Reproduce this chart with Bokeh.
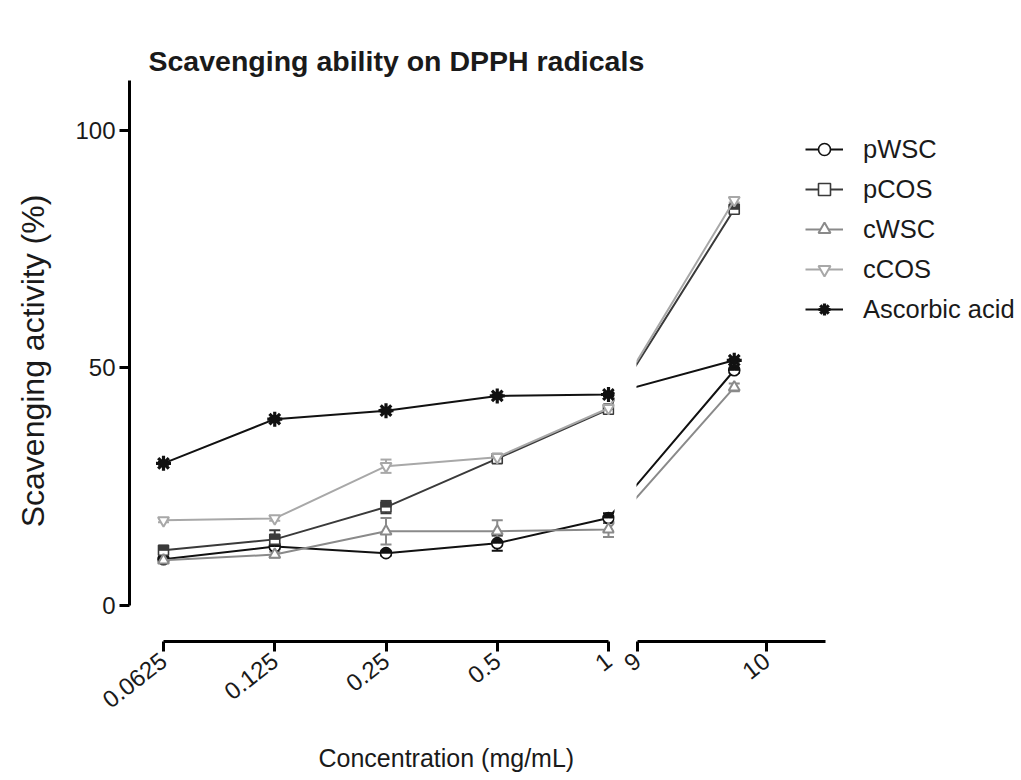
import numpy as np
from bokeh.plotting import figure
from bokeh.layouts import row, column
from bokeh.models import (FixedTicker, CustomJSTickFormatter, Range1d, Legend, LegendItem,
                          Whisker, ColumnDataSource, TeeHead, Title)
from bokeh.embed import file_html
from bokeh.resources import INLINE

# ---------------- data ----------------
conc = [0.0625, 0.125, 0.25, 0.5, 1, 9.75]          # mg/mL
left_ticks = [0.0625, 0.125, 0.25, 0.5, 1]
right_ticks = [9, 10]
y_ticks = [0, 50, 100]

pWSC = [9.7, 12.4, 11.0, 13.1, 18.4, 49.5]
pWSC_err = [0.4, 0.6, 0.5, 1.6, 1.0, 0.6]
pCOS = [11.6, 13.9, 20.7, 30.9, 41.3, 83.4]
pCOS_err = [0.6, 1.9, 1.3, 0.6, 0.6, 0.6]
cWSC = [9.5, 10.7, 15.6, 15.6, 16.0, 45.9]
cWSC_err = [0.4, 0.6, 2.8, 2.3, 1.6, 0.8]
cCOS = [17.9, 18.3, 29.3, 31.2, 41.5, 85.3]
cCOS_err = [0.4, 0.5, 1.4, 0.5, 0.5, 0.5]
ascorbic = [29.9, 39.2, 41.0, 44.1, 44.4, 51.6]
ascorbic_err = [0.3, 0.3, 0.3, 0.3, 0.3, 0.3]

# ---------------- broken x scale ----------------
PXU = 111.25          # pixels per unit of the combined axis coordinate
GAP = 29 / PXU        # gap between the two segments
SLOPE = 129 / PXU     # right segment: axis units per mg/mL
BREAK_START = 9


def to_u(c):
    c = np.asarray(c, dtype=float)
    return np.where(c <= 1, np.log2(c), GAP + (c - BREAK_START) * SLOPE)


u = to_u(conc)
FONT = "Liberation Sans"
TXT = "#1a1a1a"

HEAD_H = 80
FRAME_H = 561
BOTTOM = 92
FOOT_H = 780 - HEAD_H - FRAME_H - BOTTOM
ROW_H = FRAME_H + BOTTOM
Y0, Y1 = -7.6, 110.5
py_unit = FRAME_H / (Y1 - Y0)


def strip(height, top, text, size, style, offset):
    s = figure(width=1021, height=height, output_backend="svg", toolbar_location=None,
               x_axis_location=None, y_axis_location=None,
               min_border_left=0, min_border_right=0, min_border_top=top,
               min_border_bottom=0)
    s.outline_line_color = None
    s.grid.visible = False
    s.title = Title(text=text, align="left", offset=offset, text_font=FONT,
                    text_font_size=size, text_font_style=style, text_color=TXT, standoff=4)
    return s


head = strip(HEAD_H, HEAD_H - 2, "Scavenging ability on DPPH radicals", "28.5px", "bold", 148)
foot = strip(FOOT_H, 40, "Concentration (mg/mL)", "25px", "normal", 318)

# left figure: frame 129 .. 614, canvas 0 .. 617
LW = 617
l_frame_w = 614 - 129
l_start = -4 - 34 / PXU
left = figure(width=LW, height=ROW_H, output_backend="svg", toolbar_location=None,
              x_range=Range1d(l_start, l_start + l_frame_w / PXU),
              y_range=Range1d(Y0, Y1),
              min_border_left=129, min_border_right=LW - 614,
              min_border_top=0, min_border_bottom=BOTTOM)

# right figure: canvas 617 .. 1021, frame 636 .. 1015
RW = 1021 - LW
R_BL = 636 - LW
r_frame_w = RW - R_BL - 6
r_start = GAP - 1 / PXU
right = figure(width=RW, height=ROW_H, output_backend="svg", toolbar_location=None,
               x_range=Range1d(r_start, r_start + r_frame_w / PXU),
               y_range=Range1d(Y0, Y1), y_axis_location=None,
               min_border_left=R_BL, min_border_right=6,
               min_border_top=0, min_border_bottom=BOTTOM)

for f in (left, right):
    f.outline_line_color = None
    f.xgrid.visible = False
    f.ygrid.visible = False
    f.background_fill_color = "white"
    f.border_fill_color = "white"
    ax = f.xaxis[0]
    ax.axis_line_width = 3
    ax.axis_line_color = "black"
    ax.major_tick_line_width = 3
    ax.major_tick_line_color = "black"
    ax.major_tick_out = 10
    ax.major_tick_in = 0
    ax.minor_tick_line_color = None
    ax.major_label_text_font = FONT
    ax.major_label_text_font_size = "24px"
    ax.major_label_text_color = TXT
    ax.major_label_orientation = 0.66
    ax.major_label_standoff = 6

left.xaxis[0].bounds = (-4, 0)
left.xaxis[0].ticker = FixedTicker(ticks=list(to_u(left_ticks)))
left.xaxis[0].formatter = CustomJSTickFormatter(code="return String(Math.pow(2, tick))")

right.xaxis[0].bounds = (GAP, GAP + (825 - 637) / PXU)
right.xaxis[0].ticker = FixedTicker(ticks=list(to_u(right_ticks)))
right.xaxis[0].formatter = CustomJSTickFormatter(
    args=dict(g=GAP, s=SLOPE, b=BREAK_START),
    code="return String(Math.round((b + (tick - g) / s) * 100) / 100)")

yax = left.yaxis[0]
yax.bounds = (0, Y1)
yax.ticker = FixedTicker(ticks=y_ticks)
yax.axis_line_width = 3
yax.major_tick_line_width = 3
yax.major_tick_out = 10
yax.major_tick_in = 0
yax.minor_tick_line_color = None
yax.major_label_text_font = FONT
yax.major_label_text_font_size = "24px"
yax.major_label_text_color = TXT
yax.major_label_standoff = 4
yax.axis_label = "Scavenging activity (%)"
yax.axis_label_text_font = FONT
yax.axis_label_text_font_size = "32px"
yax.axis_label_text_font_style = "normal"
yax.axis_label_text_color = TXT
yax.axis_label_standoff = 21

series = [
    ("pWSC", pWSC, pWSC_err, "#111111", "circle"),
    ("pCOS", pCOS, pCOS_err, "#3a3a3a", "square"),
    ("cWSC", cWSC, cWSC_err, "#8a8a8a", "triangle"),
    ("cCOS", cCOS, cCOS_err, "#a8a8a8", "inverted_triangle"),
    ("Ascorbic acid", ascorbic, ascorbic_err, "#111111", "asterisk"),
]

items = []
conc_arr = np.asarray(conc, dtype=float)
for name, vals, errs, col, mk in series:
    vals = np.asarray(vals, dtype=float)
    errs = np.asarray(errs, dtype=float)
    legend_rs = []
    for f in (left, right):
        src = ColumnDataSource(dict(x=u, y=vals))
        lr = f.line("x", "y", source=src, line_color=col, line_width=2)
        # error bars on the points that belong to this segment
        mask = conc_arr <= 1 if f is left else conc_arr >= BREAK_START
        wsrc = ColumnDataSource(dict(x=u[mask], upper=(vals + errs)[mask], lower=(vals - errs)[mask]))
        f.add_layout(Whisker(source=wsrc, base="x", upper="upper", lower="lower",
                             dimension="height", line_color=col, line_width=2,
                             upper_head=TeeHead(size=11, line_color=col, line_width=2),
                             lower_head=TeeHead(size=11, line_color=col, line_width=2)))
        rs = [lr]
        if mk == "asterisk":
            rs.append(f.scatter("x", "y", source=src, marker="asterisk", size=15,
                                line_color=col, line_width=3.2))
            f.scatter("x", "y", source=src, marker="circle", size=7,
                      fill_color=col, line_color=col)
        elif mk == "circle":
            rs.append(f.scatter("x", "y", source=src, marker="circle", size=11,
                                fill_color="white", line_color=col, line_width=1.6))
            f.wedge("x", "y", source=src, radius=5.2, radius_units="screen",
                    start_angle=0, end_angle=np.pi, fill_color=col, line_color=col)
        elif mk == "square":
            rs.append(f.scatter("x", "y", source=src, marker="square", size=10,
                                fill_color="white", line_color=col, line_width=1.6))
            hsrc = ColumnDataSource(dict(x=u, y=vals + 2.5 / py_unit))
            f.rect("x", "y", source=hsrc, width=10, height=5, width_units="screen",
                   height_units="screen", fill_color=col, line_color=col)
        else:
            rs.append(f.scatter("x", "y", source=src, marker=mk, size=11,
                                fill_color="white", line_color=col, line_width=2))
        if f is right:
            legend_rs = rs
    items.append(LegendItem(label=name, renderers=legend_rs))

# legend box: left edge at x=805, bottom at y=324 (page pixels)
legend = Legend(items=items, location=(805 - 636, HEAD_H + FRAME_H - 324),
                label_text_font=FONT, label_text_font_size="25.5px", label_text_color=TXT,
                glyph_width=38, glyph_height=30, label_height=30, spacing=10,
                label_standoff=20, padding=0, margin=0,
                border_line_color=None, background_fill_alpha=0)
right.add_layout(legend)

layout = column(head, row(left, right), foot)
open("out.html", "w").write(file_html(layout, INLINE))
